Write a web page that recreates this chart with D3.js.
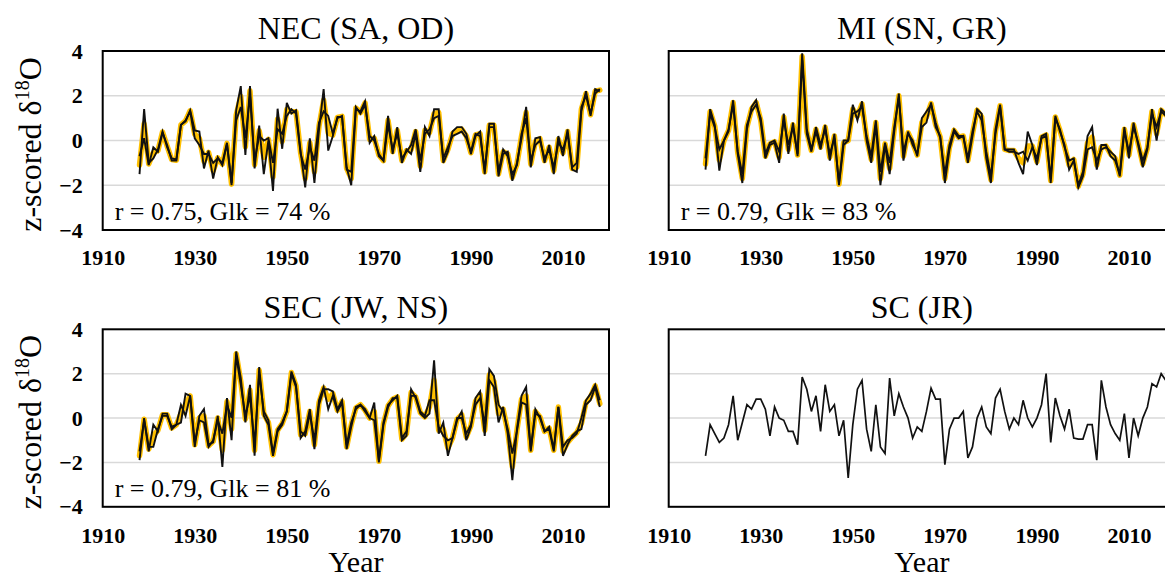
<!DOCTYPE html>
<html><head><meta charset="utf-8">
<script src="https://cdn.jsdelivr.net/npm/d3@7"></script>
<style>
html,body{margin:0;padding:0;background:#fff;}
svg{display:block;}
text{font-family:"Times New Roman","Liberation Serif",serif;}
</style></head>
<body>
<svg id="chart" width="1165" height="577"></svg>
<script>
// ---------------- data ----------------
const startYear = 1918, endYear = 2018;
const years = d3.range(startYear, endYear + 1);
const xTickValues = [1910, 1930, 1950, 1970, 1990, 2010];
const yTickValues = [-4, -2, 0, 2, 4];
const gridValues = [-2, 0, 2];

// NEC (SA, OD)
const necSA = [-1.5, 1.4,
  -1.0, -0.8, -0.4, 0.4, -0.3, -0.8, -0.85, 0.7, 0.85, 1.35,
  0.45, 0.4, -1.25, -0.45, -1.7, -0.75, -1.1, -0.15, -2.0, 1.35,
  2.43, -0.65, 2.43, -1.25, 0.67, -1.5, 0.0, -2.25, 1.42, -0.37,
  1.68, 1.2, 1.35, -0.5, -2.1, 0.1, -1.9, 0.5, 2.3, -0.45,
  0.2, 1.05, 1.05, -1.2, -2.0, 1.4, 1.3, 1.75, -0.1, 0.2,
  -0.7, -0.9, 1.1, -0.6, 0.6, -1.0, -0.4, -0.6, 0.3, -1.4,
  0.6, 0.2, 1.4, 1.4, -1.0, -0.5, 0.4, 0.6, 0.6, 0.3,
  -0.6, 0.2, 0.4, -1.5, 0.75, 0.75, -1.6, -0.6, -0.5, -1.8,
  -1.0, 0.1, 1.5, -1.2, 0.1, 0.15, -1.0, -0.2, -1.5, 0.2,
  -0.7, 0.5, -1.3, -1.4, 1.3, 2.2, 1.1, 2.3, 2.2];
const necOD = [-0.7, 0.1,
  -1.1, -0.3, -0.5, 0.35, -0.2, -0.9, -0.9, 0.7, 0.9, 1.3,
  0.1, -0.2, -0.6, -0.6, -1.0, -0.8, -1.0, -0.1, -1.9, 0.9,
  1.5, 0.1, 2.0, -0.9, 0.2, 0.0, 0.1, -1.0, 0.5, 0.3,
  1.1, 1.4, 1.2, -0.6, -1.3, -0.3, -0.9, 0.8, 1.3, 1.1,
  0.3, 1.0, 1.1, -1.3, -1.4, 1.5, 1.2, 1.6, 0.2, 0.0,
  -0.6, -0.9, 0.7, -0.4, 0.3, -0.8, -0.5, -0.2, 0.5, -0.9,
  0.3, 0.5, 1.0, 1.1, -0.8, -0.3, 0.2, 0.3, 0.4, 0.1,
  -0.5, 0.3, 0.2, -1.3, 0.6, 0.6, -1.4, -0.4, -0.7, -1.5,
  -1.1, 0.3, 1.0, -0.9, -0.2, 0.0, -0.8, -0.4, -1.2, -0.1,
  -0.4, 0.3, -1.2, -1.0, 1.5, 2.0, 1.2, 2.1, 2.3];
const necComposite = [-1.1, 0.75,
  -1.05, -0.55, -0.45, 0.38, -0.25, -0.85, -0.88, 0.7, 0.88, 1.33,
  0.28, 0.1, -0.93, -0.53, -1.35, -0.78, -1.05, -0.13, -1.95, 1.13,
  1.97, -0.28, 2.22, -1.08, 0.44, -0.75, 0.05, -1.63, 0.96, -0.04,
  1.39, 1.3, 1.28, -0.55, -1.7, -0.1, -1.4, 0.65, 1.8, 0.33,
  0.25, 1.03, 1.08, -1.25, -1.7, 1.45, 1.25, 1.68, 0.05, 0.1,
  -0.65, -0.9, 0.9, -0.5, 0.45, -0.9, -0.45, -0.4, 0.4, -1.15,
  0.45, 0.35, 1.2, 1.25, -0.9, -0.4, 0.3, 0.45, 0.5, 0.2,
  -0.55, 0.25, 0.3, -1.4, 0.68, 0.68, -1.5, -0.5, -0.6, -1.65,
  -1.05, 0.2, 1.25, -1.05, -0.05, 0.08, -0.9, -0.3, -1.35, 0.05,
  -0.55, 0.4, -1.25, -1.2, 1.4, 2.1, 1.15, 2.2, 2.25];

// MI (SN, GR)
const miSN = [-1.3, 1.4,
  0.7, -1.35, 0.0, 0.4, 1.8, -0.6, -1.9, 0.5, 1.5, 1.8,
  0.8, -0.8, -0.2, -0.1, -1.0, 1.2, -0.6, 0.8, -0.7, 3.9,
  0.5, -0.4, 0.4, -0.4, 0.7, -0.9, 0.3, -2.0, -0.2, 0.0,
  1.6, 0.9, 1.75, 0.0, -1.0, 0.7, -2.0, -0.2, -1.5, 0.4,
  2.1, -0.9, 0.4, -0.2, -0.6, 0.6, 0.8, 1.7, 0.6, 0.2,
  -1.9, -0.4, 0.4, 0.1, 0.2, -1.0, 0.2, 1.4, 1.2, -0.8,
  -1.9, 0.5, 1.6, -0.4, -0.4, -0.4, -1.0, -1.5, 0.4, -0.2,
  -1.1, 0.2, 0.3, -1.9, 1.1, 0.4, -0.2, -1.3, -0.9, -2.0,
  -1.4, 0.2, 0.6, -1.3, -0.2, -0.2, -0.7, -0.9, -1.5, 0.6,
  -0.8, 0.8, -0.2, -1.2, -0.4, 1.4, 0.0, 1.4, 1.2];
const miGR = [-0.8, 1.2,
  0.6, -0.4, 0.0, 0.5, 1.6, -0.5, -1.5, 0.7, 1.3, 1.6,
  1.0, -0.6, -0.1, 0.0, -0.5, 0.9, -0.2, 0.6, -0.6, 3.6,
  0.3, -0.5, 0.6, -0.2, 0.5, -0.6, 0.1, -1.9, 0.0, 0.0,
  1.2, 1.3, 1.5, 0.2, -0.7, 0.9, -1.4, -0.1, -1.0, 0.6,
  1.9, -0.5, 0.3, 0.0, -0.7, 1.0, 1.3, 1.6, 0.8, 0.1,
  -1.5, -0.2, 0.5, 0.2, 0.2, -0.8, 0.4, 1.3, 0.9, -0.5,
  -1.6, 0.3, 1.5, -0.4, -0.5, -0.5, -0.6, -0.5, -0.9, -0.3,
  -0.8, 0.1, 0.2, -1.7, 1.0, 0.5, -0.3, -0.9, -0.8, -2.1,
  -1.6, -0.4, -0.3, -0.9, -0.4, -0.3, -0.5, -0.7, -1.6, 0.4,
  -0.5, 0.6, -0.1, -0.9, -0.3, 1.2, 0.6, 1.3, 1.1];
const miComposite = [-1.05, 1.3,
  0.65, -0.88, 0.0, 0.45, 1.7, -0.55, -1.7, 0.6, 1.4, 1.7,
  0.9, -0.7, -0.15, -0.05, -0.75, 1.05, -0.4, 0.7, -0.65, 3.75,
  0.4, -0.45, 0.5, -0.3, 0.6, -0.75, 0.2, -1.95, -0.1, 0.0,
  1.4, 1.1, 1.63, 0.1, -0.85, 0.8, -1.7, -0.15, -1.25, 0.5,
  2.0, -0.7, 0.35, -0.1, -0.65, 0.8, 1.05, 1.65, 0.7, 0.15,
  -1.7, -0.3, 0.45, 0.15, 0.2, -0.9, 0.3, 1.35, 1.05, -0.65,
  -1.75, 0.4, 1.55, -0.4, -0.45, -0.45, -0.8, -1.0, -0.25, -0.25,
  -0.95, 0.15, 0.25, -1.8, 1.05, 0.45, -0.25, -1.1, -0.85, -2.05,
  -1.5, -0.1, 0.15, -1.1, -0.3, -0.25, -0.6, -0.8, -1.55, 0.5,
  -0.65, 0.7, -0.15, -1.05, -0.35, 1.3, 0.3, 1.35, 1.15];

// SEC (JW, NS)
const secJW = [-1.9, 0.0,
  -1.5, -0.3, -0.6, 0.2, 0.2, -0.5, -0.3, -0.2, 1.1, 1.0,
  -1.3, 0.1, 0.4, -1.2, -1.1, 0.1, -2.2, 0.9, -1.0, 3.0,
  1.8, -0.2, 1.5, -1.7, 2.3, 0.1, -0.3, -1.7, -0.6, -0.3,
  0.3, 2.1, 1.5, -0.9, -0.6, 0.4, -1.4, 0.6, 1.3, 1.3,
  1.2, 0.4, 0.8, -1.4, -0.4, 0.5, 0.6, 0.3, 0.0, 0.7,
  -2.0, -0.3, 0.5, 0.9, 0.9, -1.0, -0.8, 1.3, 0.9, 0.2,
  0.0, 0.2, 2.6, -0.7, -0.2, -1.7, -0.9, -0.1, 0.3, -1.0,
  -0.4, 0.9, 1.2, -0.8, 1.7, 1.4, -0.2, 0.5, -0.7, -2.8,
  -0.5, 1.0, 1.4, -1.5, 0.4, 0.0, -0.6, -0.4, -1.4, 0.5,
  -1.7, -1.2, -0.8, -0.6, -0.5, 0.6, 0.8, 1.4, 0.5];
const secNS = [-1.5, -0.1,
  -1.3, -1.3, -0.5, 0.1, 0.1, -0.4, -0.3, 0.6, 0.1, 1.0,
  -1.1, -0.1, -0.2, -1.3, -1.0, -0.1, -0.7, 0.6, 0.0, 2.8,
  1.5, 0.1, 1.0, -1.2, 2.0, 0.3, -0.1, -1.6, -0.5, -0.2,
  0.3, 2.0, 1.4, -0.6, -0.8, 0.2, -1.0, 0.8, 1.4, 0.4,
  1.0, 0.3, 0.7, -1.2, -0.2, 0.4, 0.6, 0.4, 0.0, -0.1,
  -1.9, -0.2, 0.6, 0.8, 1.0, -0.9, -0.6, 1.0, 1.0, 0.3,
  0.1, 0.8, 0.8, -0.4, -0.8, -1.0, -0.9, 0.0, 0.0, -0.7,
  -0.3, 0.6, 0.9, -0.3, 2.2, 1.9, 0.6, 0.3, -0.5, -1.6,
  -0.6, 0.7, 0.6, -1.4, 0.2, 0.1, -0.6, -0.5, -1.5, 0.5,
  -1.3, -1.0, -0.9, -0.7, 0.0, 0.8, 1.1, 1.5, 0.8];
const secComposite = [-1.7, -0.05,
  -1.4, -0.8, -0.55, 0.15, 0.15, -0.45, -0.3, 0.2, 0.6, 1.0,
  -1.2, 0.0, 0.1, -1.25, -1.05, 0.0, -1.45, 0.75, -0.5, 2.9,
  1.65, -0.05, 1.25, -1.45, 2.15, 0.2, -0.2, -1.65, -0.55, -0.25,
  0.3, 2.05, 1.45, -0.75, -0.7, 0.3, -1.2, 0.7, 1.35, 0.85,
  1.1, 0.35, 0.75, -1.3, -0.3, 0.45, 0.6, 0.35, 0.0, 0.3,
  -1.95, -0.25, 0.55, 0.85, 0.95, -0.95, -0.7, 1.15, 0.95, 0.25,
  0.05, 0.5, 1.7, -0.55, -0.5, -1.35, -0.9, -0.05, 0.15, -0.85,
  -0.35, 0.75, 1.05, -0.55, 1.95, 1.65, 0.2, 0.4, -0.6, -2.2,
  -0.55, 0.85, 1.0, -1.45, 0.3, 0.05, -0.6, -0.45, -1.45, 0.5,
  -1.5, -1.1, -0.85, -0.65, -0.25, 0.7, 0.95, 1.45, 0.65];

// SC (JR)
const scJR = [-1.7, -0.3,
  -0.7, -1.1, -0.9, -0.3, 1.0, -1.0, -0.2, 0.6, 0.4, 0.85,
  0.85, 0.4, -0.8, 0.5, 0.0, -0.1, -0.6, -0.6, -1.2, 1.85,
  1.3, 0.3, 1.0, -0.6, 1.5, 0.3, 0.6, -0.8, -0.1, -2.7,
  -0.3, 1.3, 1.7, -0.5, -1.5, 0.6, -1.3, -1.6, 1.8, 0.1,
  1.1, 0.5, 0.0, -0.9, -0.4, -0.6, 0.3, 1.35, 0.85, 0.85,
  -2.1, -0.5, 0.0, 0.0, 0.3, -1.8, -1.3, 0.0, 0.5, -0.4,
  -0.7, 0.9, 1.3, 0.3, -0.5, 0.0, -0.3, 0.8, 0.0, -0.4,
  0.0, 0.6, 2.0, -1.1, 0.9, 0.1, -0.5, 0.4, -0.9, -0.95,
  -0.95, -0.3, -0.3, -1.9, 1.7, 0.5, -0.3, -0.7, -1.0, 0.2,
  -1.8, 0.0, -0.8, 0.0, 0.5, 1.55, 1.4, 2.0, 1.7];

const panelTitles = ["NEC (SA, OD)", "MI (SN, GR)", "SEC (JW, NS)", "SC (JR)"];
const panelStats = ["r = 0.75, Glk = 74 %", "r = 0.79, Glk = 83 %", "r = 0.79, Glk = 81 %", null];

// ---------------- layout ----------------
const FONT = '"Times New Roman","Liberation Serif",serif';
const svg = d3.select("#chart");
const pw = 506.3;
const panels = [
  {x: 102.7, y: 51,    h: 179,   title: panelTitles[0], stat: panelStats[0], comp: necComposite, sites: [necOD, necSA], leftAxis: true,  yearLabel: false, titleY: 39},
  {x: 668.7, y: 51,    h: 179,   title: panelTitles[1], stat: panelStats[1], comp: miComposite,  sites: [miGR, miSN],   leftAxis: false, yearLabel: false, titleY: 39},
  {x: 102.7, y: 329.3, h: 177.5, title: panelTitles[2], stat: panelStats[2], comp: secComposite, sites: [secNS, secJW], leftAxis: true,  yearLabel: true,  titleY: 318},
  {x: 668.7, y: 329.3, h: 177.5, title: panelTitles[3], stat: panelStats[3], comp: null,         sites: [scJR],         leftAxis: false, yearLabel: true,  titleY: 318}
];

panels.forEach(p => {
  const g = svg.append("g").attr("transform", `translate(${p.x},${p.y})`);
  const x = d3.scaleLinear().domain([1910, 2020]).range([0, pw]);
  const y = d3.scaleLinear().domain([-4, 4]).range([p.h, 0]);

  g.selectAll("line.grid").data(gridValues).join("line")
    .attr("x1", 0).attr("x2", pw)
    .attr("y1", d => y(d)).attr("y2", d => y(d))
    .attr("stroke", "#d9d9d9").attr("stroke-width", 1.5);

  const line = d3.line().x((d, i) => x(years[i])).y(d => y(d));

  if (p.comp) {
    g.append("path").datum(p.comp).attr("d", line)
      .attr("fill", "none").attr("stroke", "#FFC000")
      .attr("stroke-width", 5.5).attr("stroke-linejoin", "round").attr("stroke-linecap", "round");
  }
  p.sites.forEach(s => {
    g.append("path").datum(s).attr("d", line)
      .attr("fill", "none").attr("stroke", "#111")
      .attr("stroke-width", p.comp ? 1.9 : 1.7).attr("stroke-linejoin", "miter");
  });

  g.append("rect").attr("x", 0).attr("y", 0).attr("width", pw).attr("height", p.h)
    .attr("fill", "none").attr("stroke", "#000").attr("stroke-width", 2);

  const xa = g.append("g").attr("transform", `translate(0,${p.h})`)
    .call(d3.axisBottom(x).tickValues(xTickValues).tickFormat(d3.format("d")).tickSize(0).tickPadding(p.yearLabel ? 21 : 19));
  xa.attr("font-family", null);
  xa.select(".domain").remove();
  xa.selectAll("text").attr("font-size", 22).attr("font-weight", "bold")
    .attr("fill", "#000").style("font-family", FONT);

  if (p.leftAxis) {
    const ya = g.append("g")
      .call(d3.axisLeft(y).tickValues(yTickValues).tickFormat(d3.format("d")).tickSize(0).tickPadding(20));
    ya.attr("font-family", null);
    ya.select(".domain").remove();
    ya.selectAll("text").attr("font-size", 22).attr("font-weight", "bold")
      .attr("fill", "#000").style("font-family", FONT);

    const yl = svg.append("text")
      .attr("transform", `translate(41,${p.y + p.h / 2 + 4}) rotate(-90)`)
      .attr("text-anchor", "middle").attr("font-size", 32).attr("fill", "#000");
    yl.append("tspan").text("z-scored δ");
    yl.append("tspan").attr("font-size", 20).attr("dy", -12).text("18");
    yl.append("tspan").attr("dy", 12).text("O");
  }

  svg.append("text").attr("x", p.x + pw / 2).attr("y", p.titleY)
    .attr("text-anchor", "middle").attr("font-size", 32).attr("fill", "#000").text(p.title);

  if (p.stat) {
    g.append("text").attr("x", 12).attr("y", p.h - 10)
      .attr("font-size", 26).attr("fill", "#000").text(p.stat);
  }
  if (p.yearLabel) {
    svg.append("text").attr("x", p.x + pw / 2).attr("y", 572)
      .attr("text-anchor", "middle").attr("font-size", 30).attr("fill", "#000").text("Year");
  }
});
</script>
</body></html>
